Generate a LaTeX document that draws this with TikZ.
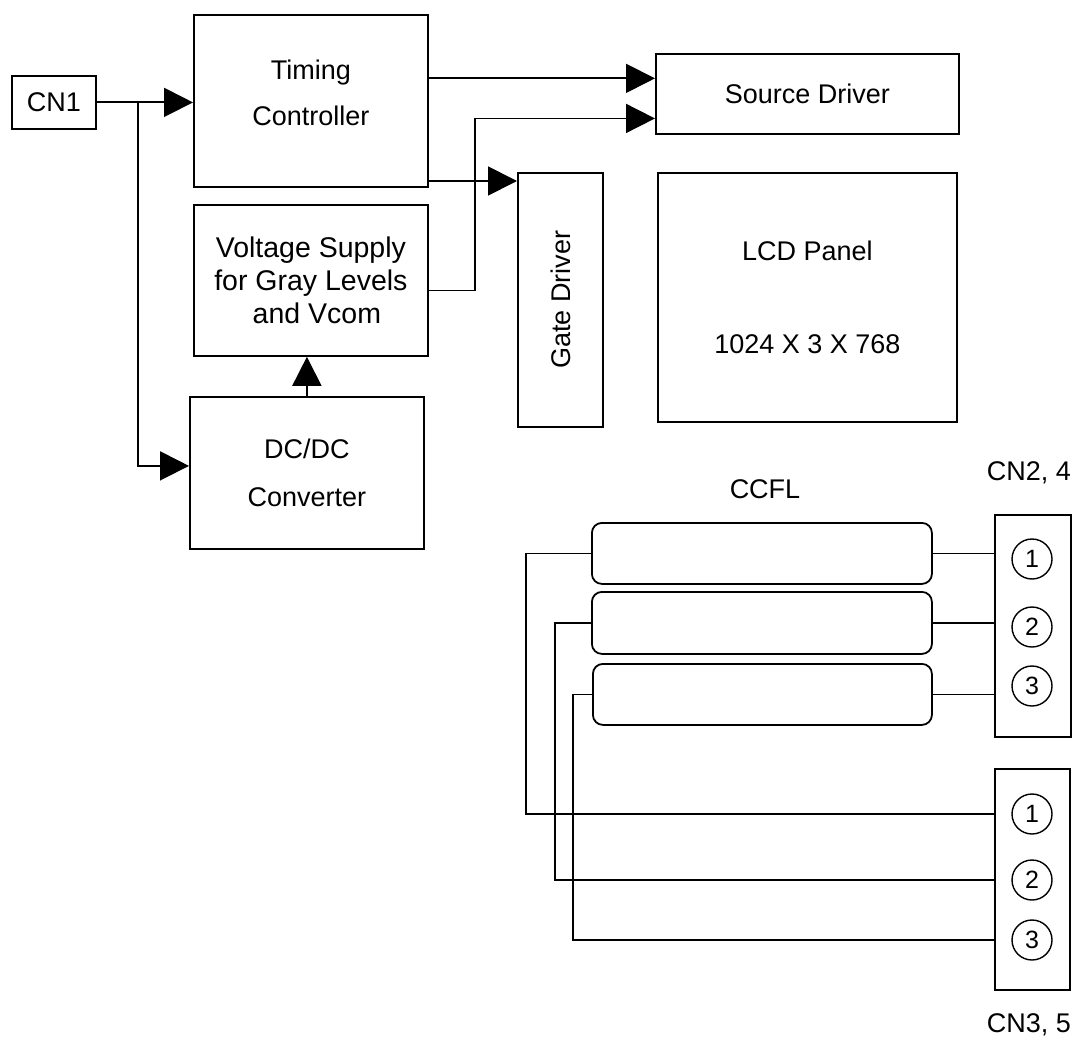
\documentclass[tikz,border=0pt]{standalone}
\usepackage{fontspec}
\setmainfont{Liberation Sans}
\usepackage{xcolor}
\usepackage{tikz}
\usetikzlibrary{arrows.meta,positioning,calc}
\definecolor{inkK}{HTML}{000000}

\begin{document}
\begin{tikzpicture}[x=1pt, y=-1pt,
    every node/.style={font=\fontsize{27}{32.4}\selectfont, text=inkK},
    blk/.style={draw=inkK, line width=1.8pt, anchor=north west,
                inner sep=0pt, align=center},
    lamp/.style={blk, rounded corners=10pt},
    pin/.style={circle, draw=inkK, line width=1.4pt, minimum size=40pt,
                inner sep=0pt, font=\fontsize{25}{30}\selectfont},
    sig/.style={draw=inkK, line width=1.8pt,
                -{Triangle[length=29pt,width=29pt]}},
    wire/.style={draw=inkK, line width=1.8pt}]
  \useasboundingbox (0,0) rectangle (1077,1041);

  % control side
  \node[blk, minimum width=84pt, minimum height=53pt] (cn1) at (11,75) {CN1};
  \node[blk, minimum width=234pt, minimum height=172pt] (tcon) at (193,14) {};
  \node[align=center, yshift=8pt] at (tcon.center) {Timing\\[14pt]Controller};
  \node[blk, minimum width=234pt, minimum height=151pt,
        font=\fontsize{28.5}{33}\selectfont] (vsup) at (193,204)
    {Voltage Supply\\for Gray Levels\\\hspace*{12pt}and Vcom};
  \node[blk, minimum width=234pt, minimum height=152pt] (dcdc) at (189,396)
    {DC/DC\\[15.6pt]Converter};

  % panel side
  \node[blk, minimum width=303pt, minimum height=80pt] (src) at (655,53) {Source Driver};
  \node[blk, minimum width=85pt, minimum height=254pt] (gate) at (517,172) {};
  \node[rotate=90] at (gate.center) {Gate Driver};
  \node[blk, minimum width=299pt, minimum height=249pt] (lcd) at (657,172)
    {LCD Panel\\[60.6pt]1024 X 3 X 768};

  % backlight
  \node (ccfl) at (765,489) {CCFL};
  \node[lamp, minimum width=340pt, minimum height=61pt] (lamp1) at (591,522) {};
  \node[lamp, minimum width=340pt, minimum height=62pt] (lamp2) at (591,591) {};
  \node[lamp, minimum width=339pt, minimum height=61pt] (lamp3) at (592,663) {};
  \node[blk, minimum width=76pt, minimum height=222pt] (cnA) at (994,514) {};
  \node[blk, minimum width=75pt, minimum height=221pt] (cnB) at (994,768) {};
  \node (cnAlbl) at (1029,473) {CN2, 4};
  \node (cnBlbl) at (1029,1025) {CN3, 5};
  \foreach \i/\ya/\yb in {1/559/814, 2/627/880, 3/686/940} {
    \node[pin] (a\i) at (1032,\ya) {\i};
    \node[pin] (b\i) at (1032,\yb) {\i};
  }

  % signal paths
  \coordinate (split) at ($(cn1.east)+(41,0)$);
  \coordinate (srcA) at ($(src.north west)!0.31!(src.south west)$);
  \coordinate (srcB) at ($(src.north west)!0.80!(src.south west)$);
  \coordinate (gin) at ([yshift=-9pt]gate.north west);
  \draw[sig] (cn1.east) -- (cn1.east -| tcon.west);
  \draw[sig] (split) |- ([yshift=7pt]dcdc.west);
  \draw[sig] (dcdc.north) -- (dcdc.north |- vsup.south);
  \draw[sig] (tcon.east |- srcA) -- (srcA);
  \draw[sig] ([yshift=-10pt]vsup.east) -- ++(46,0) |- (srcB);
  \draw[sig] (tcon.east |- gin) -- (gin);

  % lamp wiring
  \draw[wire] (lamp1.west) -- ++(-65,0) |- (cnB.west |- b1);
  \draw[wire] (lamp2.west) -- ++(-36,0) |- (cnB.west |- b2);
  \draw[wire] (lamp3.west) -- ++(-19,0) |- (cnB.west |- b3);
  \foreach \i in {1,2,3}
    \draw[wire] (lamp\i.east) -- (lamp\i.east -| cnA.west);
\end{tikzpicture}
\end{document}
